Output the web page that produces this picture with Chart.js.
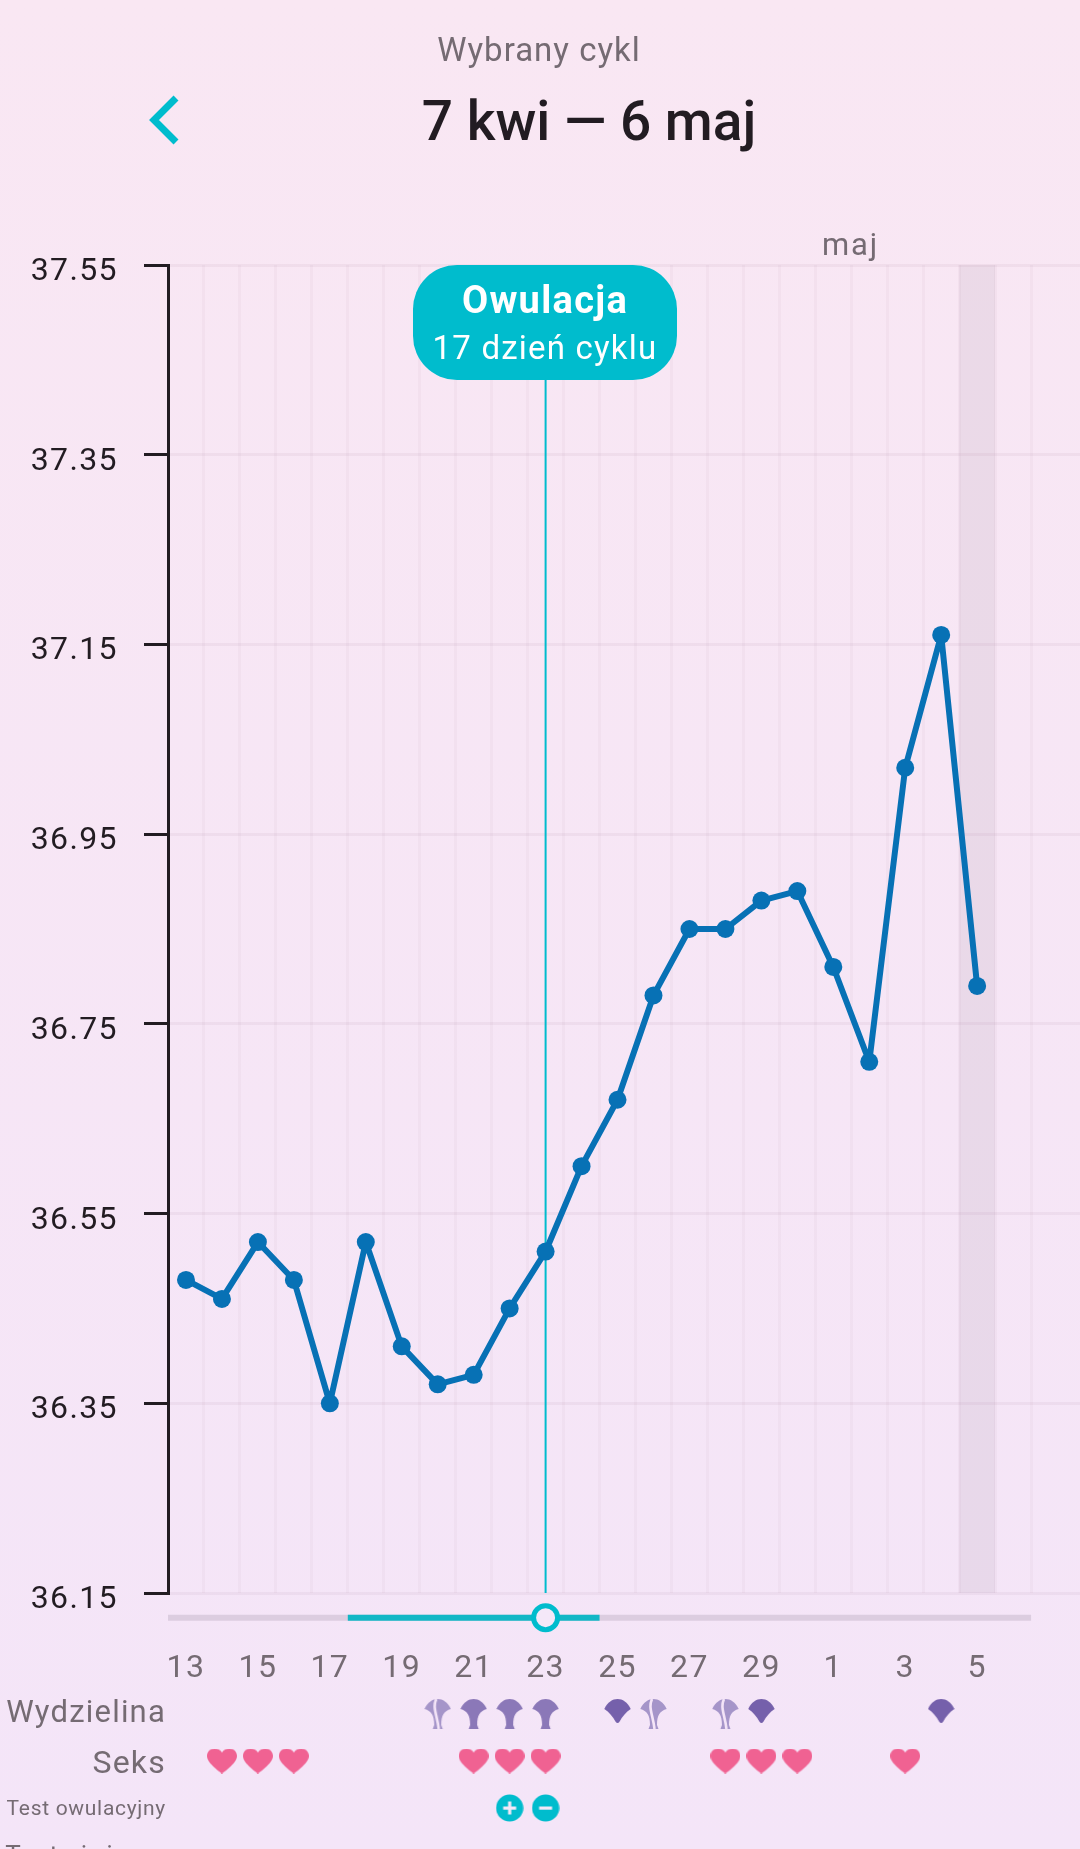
<!DOCTYPE html>
<html lang="pl"><head><meta charset="utf-8"><title>Wybrany cykl</title>
<script src="https://cdn.jsdelivr.net/npm/chart.js@4/dist/chart.umd.js"></script>
<style>
html,body{margin:0;padding:0;width:1080px;height:1849px;overflow:hidden}
body{background:linear-gradient(180deg,#f9e7f3 0%,#f4e5f8 100%);font-family:Roboto,sans-serif;position:relative}
canvas{position:absolute;left:0;display:block}
.t{position:absolute;white-space:nowrap;line-height:1;color:#756b73}
.r{right:914px;text-align:right}
</style></head><body>
<canvas id="main" width="1089" height="1710" style="top:0"></canvas>
<canvas id="rows" width="1097" height="290" style="top:1576px"></canvas>
<div class="t" style="left:0;width:1078px;text-align:center;top:33px;font-size:33px;letter-spacing:1px">Wybrany cykl</div>
<div class="t" style="left:0;width:1178px;text-align:center;top:94px;font-size:55px;font-weight:500;color:#221c22">7 kwi — 6 maj</div>
<svg style="position:absolute;left:140px;top:88px" width="50" height="64"><polyline points="36,10 14,32 36,54" fill="none" stroke="#00bccd" stroke-width="7"/></svg>
<div class="t" style="left:822px;top:229px;font-size:31px;letter-spacing:1.8px">maj</div>
<div style="position:absolute;left:413px;top:265px;width:264px;height:115px;border-radius:44px;background:#00bccd;color:#fff;text-align:center">
<div style="position:absolute;left:0;right:0;top:16px;font-size:38px;font-weight:700;line-height:1;letter-spacing:1.3px">Owulacja</div>
<div style="position:absolute;left:0;right:0;top:66px;font-size:33px;line-height:1;letter-spacing:1.2px">17 dzień cyklu</div></div>
<div class="t r" style="top:1696px;font-size:31px;letter-spacing:1.2px">Wydzielina</div>
<div class="t r" style="top:1746px;font-size:32px;letter-spacing:1.2px">Seks</div>
<div class="t r" style="top:1798px;font-size:21px;letter-spacing:.7px">Test owulacyjny</div>
<div class="t r" style="top:1842px;font-size:26px;letter-spacing:.9px">Test ciążowy</div>
<script>
const dayLabels = [13,14,15,16,17,18,19,20,21,22,23,24,25,26,27,28,29,30,1,2,3,4,5];
const temperatures = [36.48,36.46,36.52,36.48,36.35,36.52,36.41,36.37,36.38,36.45,36.51,36.60,36.67,36.78,36.85,36.85,36.88,36.89,36.81,36.71,37.02,37.16,36.79];
const tempTicks = [36.15,36.35,36.55,36.75,36.95,37.15,37.35,37.55];
const ovulationIndex = 10;
const todayIndex = 22;
const fertileWindow = [4.5,11.5];
const sliderExtent = [-0.5,23.5];
const dischargeSplit = [7,13,15];
const dischargeStem = [8,9,10];
const dischargeFan = [12,16,21];
const sexDays = [1,2,3,8,9,10,15,16,17,20];
const testPositive = [9];
const testNegative = [10];

const TEAL='#00bccd', INK='#221c22', MUTED='#756b73';
const xMin=-0.5, xMax=24.86, gridEnd=23.5;
const yMin=36.15, yMax=37.55;
const sliderRow=-1.05, dischargeRow=1, sexRow=2, testRow=3;

function icon(w,h,fn){const c=document.createElement('canvas');c.width=w;c.height=h;fn(c.getContext('2d'));return c;}
const dome=p=>{p.moveTo(.3,10);p.bezierCurveTo(3.5,3,8.5,0,13.5,0);p.bezierCurveTo(18.5,0,23.5,3,26.7,10);};
const fan=p=>{dome(p);p.bezierCurveTo(22,13,18,18,15.6,22.5);p.quadraticCurveTo(13.5,25.5,11.4,22.5);p.bezierCurveTo(9,18,5,13,.3,10);p.closePath();};
const stem=p=>{dome(p);p.bezierCurveTo(20,12,17,16,17,26);p.lineTo(18.5,30);p.lineTo(8.5,30);p.lineTo(10,26);p.bezierCurveTo(10,16,7,12,.3,10);p.closePath();};
const fanIcon=icon(27,30,c=>{c.fillStyle='#7560ab';c.beginPath();fan(c);c.fill();});
const stemIcon=icon(27,30,c=>{c.fillStyle='#8b78b8';c.beginPath();stem(c);c.fill();});
const splitIcon=icon(27,30,c=>{c.fillStyle='#a595c9';c.beginPath();stem(c);c.fill();
  c.globalCompositeOperation='destination-out';c.lineWidth=2.6;c.beginPath();c.moveTo(12,0);c.bezierCurveTo(8,9,13,16,14.5,30);c.stroke();});
const heartIcon=icon(30,25,c=>{c.fillStyle='#f06292';c.beginPath();c.moveTo(15,25);c.bezierCurveTo(15,25,0,15,0,7.5);c.bezierCurveTo(0,3,3.5,0,7.5,0);c.bezierCurveTo(10.5,0,13.5,1.5,15,4);c.bezierCurveTo(16.5,1.5,19.5,0,22.5,0);c.bezierCurveTo(26.5,0,30,3,30,7.5);c.bezierCurveTo(30,15,15,25,15,25);c.fill();});
const testIcon=plus=>icon(28,28,c=>{c.fillStyle=TEAL;c.beginPath();c.arc(14,14,13.6,0,7);c.fill();c.fillStyle='#f4e8f8';c.fillRect(7.5,12.5,13,3.2);if(plus)c.fillRect(12.4,7.5,3.2,13);});

const spacing={id:'spacing',beforeDraw(ch){ch.ctx.letterSpacing='1.4px';}};

const halfTicks=[];
for(let v=0;v<=gridEnd;v+=0.5)halfTicks.push({value:v});

new Chart(document.getElementById('main'),{
  type:'line',
  data:{datasets:[
    {data:temperatures.map((y,x)=>({x,y})),borderColor:'#0771b5',backgroundColor:'#0771b5',borderWidth:6,borderJoinStyle:'round',pointRadius:9,pointBorderWidth:0,tension:0,order:1,clip:false},
    {data:[{x:ovulationIndex,y:yMin},{x:ovulationIndex,y:yMax}],borderColor:TEAL,borderWidth:2,pointRadius:0,order:2},
    {data:[{x:todayIndex-.5,y:yMax},{x:todayIndex+.5,y:yMax}],borderWidth:0,pointRadius:0,fill:'start',backgroundColor:'rgba(110,80,100,0.085)',order:3}
  ]},
  plugins:[spacing],
  options:{
    responsive:false,animation:false,devicePixelRatio:1,
    layout:{padding:{top:265,left:0,right:0,bottom:0}},
    plugins:{legend:{display:false},tooltip:{enabled:false}},
    scales:{
      x:{type:'linear',min:xMin,max:xMax,
        afterBuildTicks(s){s.ticks=halfTicks.map(t=>({value:t.value}));},
        afterFit(s){s.height=117;},
        border:{display:false},
        grid:{drawTicks:false,lineWidth:3,color:c=>(c.tick&&c.tick.value%1!==0)?'rgba(120,70,110,0.04)':'rgba(0,0,0,0)'},
        ticks:{autoSkip:false,maxRotation:0,padding:57,color:MUTED,font:{family:'Roboto',size:32},
          callback:v=>(v%2===0&&v<dayLabels.length)?String(dayLabels[v]):''}
      },
      y:{type:'linear',min:yMin,max:yMax,
        afterBuildTicks(s){s.ticks=tempTicks.map(value=>({value}));},
        afterFit(s){s.width=168;},
        border:{display:true,color:INK,width:3},
        grid:{lineWidth:3,color:'rgba(120,70,110,0.06)',tickColor:INK,tickWidth:3,tickLength:24},
        ticks:{padding:26,labelOffset:7,color:INK,font:{family:'Roboto',size:32},callback:v=>v.toFixed(2)}
      }
    }
  }
});

const rowsUnit=47, rowsHeight=256, firstRowPx=121;
const rowsMin=dischargeRow-firstRowPx/rowsUnit;
const scatter=(days,row,style)=>({data:days.map(x=>({x,y:row})),showLine:false,pointStyle:style,pointRadius:14,pointBorderWidth:0,clip:false});
new Chart(document.getElementById('rows'),{
  type:'line',
  data:{datasets:[
    {data:[{x:ovulationIndex,y:sliderRow}],showLine:false,pointRadius:12,pointBorderWidth:5,pointBackgroundColor:'#f4e8f8',pointBorderColor:TEAL,order:1},
    {data:fertileWindow.map(x=>({x,y:sliderRow})),borderColor:'#12b7c6',borderWidth:6,pointRadius:0,order:2},
    {data:sliderExtent.map(x=>({x,y:sliderRow})),borderColor:'#dccde0',borderWidth:6,pointRadius:0,order:3},
    scatter(dischargeSplit,dischargeRow,splitIcon),
    scatter(dischargeStem,dischargeRow,stemIcon),
    scatter(dischargeFan,dischargeRow,fanIcon),
    scatter(sexDays,sexRow,heartIcon),
    scatter(testPositive,testRow,testIcon(true)),
    scatter(testNegative,testRow,testIcon(false))
  ]},
  options:{
    responsive:false,animation:false,devicePixelRatio:1,
    layout:{padding:{left:168,right:0,top:0,bottom:0}},
    plugins:{legend:{display:false},tooltip:{enabled:false}},
    scales:{
      x:{type:'linear',display:false,min:xMin,max:xMax},
      y:{type:'linear',display:false,reverse:true,min:rowsMin,max:rowsMin+rowsHeight/rowsUnit}
    }
  }
});
</script>
</body></html>
